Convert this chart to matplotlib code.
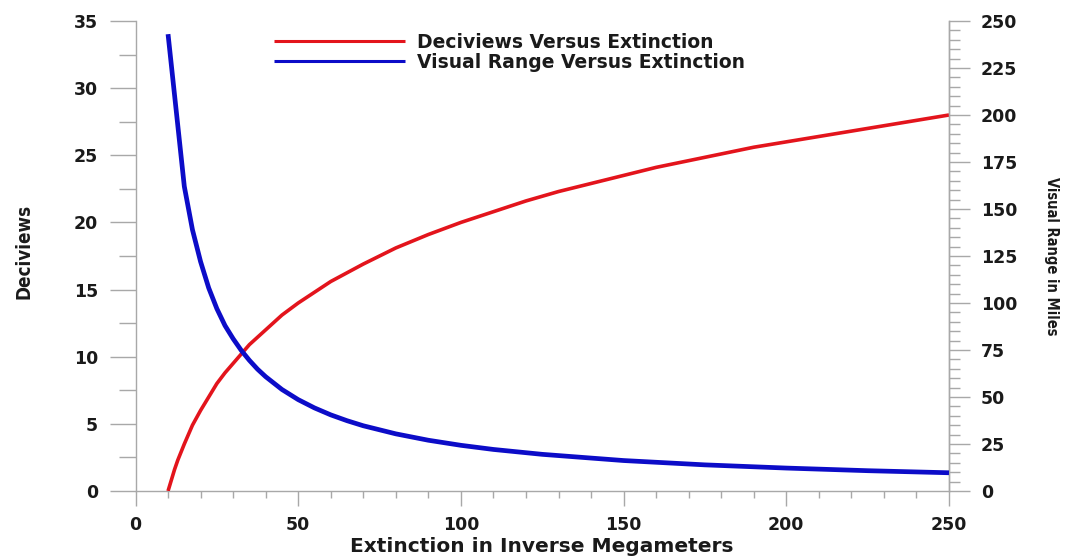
import matplotlib
matplotlib.use("Agg")
import matplotlib.pyplot as plt
from matplotlib import font_manager
from matplotlib.ticker import MultipleLocator

# Extinction (inverse megameters) and deciviews
ext_dv = [10, 11, 12, 13, 14, 15, 17.5, 20, 22.5, 25, 27.5, 30, 35, 40, 45, 50, 55, 60,
          70, 80, 90, 100, 110, 120, 130, 140, 150, 160, 170, 180, 190, 200, 210,
          220, 230, 240, 250]
deciviews = [0.0, 0.8, 1.6, 2.3, 2.9, 3.5, 4.9, 6.0, 7.0, 8.0, 8.8, 9.5, 10.9, 12.0,
             13.1, 14.0, 14.8, 15.6, 16.9, 18.1, 19.1, 20.0, 20.8, 21.6, 22.3, 22.9,
             23.5, 24.1, 24.6, 25.1, 25.6, 26.0, 26.4, 26.8, 27.2, 27.6, 28.0]

# Extinction and visual range (miles)
ext_vr = [10, 15, 17.5, 20, 22.5, 25, 27.5, 30, 32.5, 35, 37.5, 40, 45, 50, 55, 60, 65,
          70, 80, 90, 100, 110, 125, 150, 175, 200, 225, 250]
visual_range = [243, 162, 139, 122, 108, 97, 88, 81, 74.8, 69.5, 64.8, 60.8, 54, 48.6,
                44.2, 40.5, 37.4, 34.7, 30.4, 27, 24.3, 22.1, 19.5, 16.2, 13.9, 12.2,
                10.8, 9.7]

label_dv = "Deciviews Versus Extinction"
label_vr = "Visual Range Versus Extinction"
xlabel = "Extinction in Inverse Megameters"
ylabel_left = "Deciviews"
ylabel_right = "Visual Range in Miles"

RED = "#e3141c"
BLUE = "#0c0cc8"
GREY = "#a8a8a8"
TXT = "#1a1a1a"

# pick a narrow font for the axis titles if one is installed
names = {f.name for f in font_manager.fontManager.ttflist}
if "Liberation Sans Narrow" in names:
    narrow = dict(family="Liberation Sans Narrow")
else:
    narrow = dict(family="DejaVu Sans", fontstretch="condensed")

fig = plt.figure(figsize=(10.66, 5.58), dpi=100)
ax = fig.add_axes([135.5 / 1066, 1 - 491 / 558, (949 - 135.5) / 1066, (491 - 21) / 558])
ax2 = ax.twinx()

l1, = ax.plot(ext_dv, deciviews, color=RED, lw=2.6, solid_capstyle="butt", zorder=3)
l2, = ax2.plot(ext_vr, visual_range, color=BLUE, lw=3.4, solid_capstyle="butt", zorder=3)

ax.set_xlim(0, 250)
ax.set_ylim(0, 35)
ax2.set_ylim(0, 250)

for a in (ax, ax2):
    for s in a.spines.values():
        s.set_color(GREY)
        s.set_linewidth(1.0)
    a.spines["top"].set_visible(False)
ax2.spines["left"].set_visible(False)
ax2.spines["bottom"].set_visible(False)

ax.xaxis.set_major_locator(MultipleLocator(50))
ax.xaxis.set_minor_locator(MultipleLocator(10))
ax.yaxis.set_major_locator(MultipleLocator(5))
ax.yaxis.set_minor_locator(MultipleLocator(2.5))
ax2.yaxis.set_major_locator(MultipleLocator(25))
ax2.yaxis.set_minor_locator(MultipleLocator(5))

ax.tick_params(axis="x", which="major", direction="out", length=11, width=1.0,
               color=GREY, pad=7)
ax.tick_params(axis="x", which="minor", direction="out", length=5, width=1.0, color=GREY)
ax.tick_params(axis="y", which="major", direction="out", length=19, width=1.0,
               color=GREY, pad=8)
ax.tick_params(axis="y", which="minor", direction="out", length=12, width=1.0, color=GREY)
ax2.tick_params(axis="y", which="major", direction="out", length=15, width=1.0,
                color=GREY, pad=8)
ax2.tick_params(axis="y", which="minor", direction="out", length=8, width=1.0, color=GREY)

for lab in ax.get_xticklabels() + ax.get_yticklabels() + ax2.get_yticklabels():
    lab.set_fontsize(12.5)
    lab.set_fontweight("bold")
    lab.set_color(TXT)

ax.set_xlabel(xlabel, fontsize=14.5, fontweight="bold", color=TXT, va="center")
ax.xaxis.set_label_coords(0.5, (491 - 546) / 470)
ax.set_ylabel(ylabel_left, fontsize=13.5, fontweight="bold", color=TXT,
              va="center", **narrow)
ax.yaxis.set_label_coords((24 - 135.5) / 813.5, 0.51)
ax2.set_ylabel(ylabel_right, fontsize=10.5, fontweight="bold", color=TXT,
               rotation=-90, va="center", ha="center", **narrow)
ax2.yaxis.set_label_coords((1051 - 135.5) / 813.5, 0.5)

leg = ax.legend([l1, l2], [label_dv, label_vr], loc="upper left",
                bbox_to_anchor=(274 / 1066, 1 - 33 / 558), bbox_transform=fig.transFigure,
                frameon=False, borderpad=0, borderaxespad=0, handlelength=7.0,
                handletextpad=0.65, labelspacing=0.05,
                prop=dict(size=13.5, weight="bold"))
for t in leg.get_texts():
    t.set_color(TXT)
for h in leg.legend_handles:
    h.set_linewidth(2.2)

fig.savefig("out.png", dpi=100)
